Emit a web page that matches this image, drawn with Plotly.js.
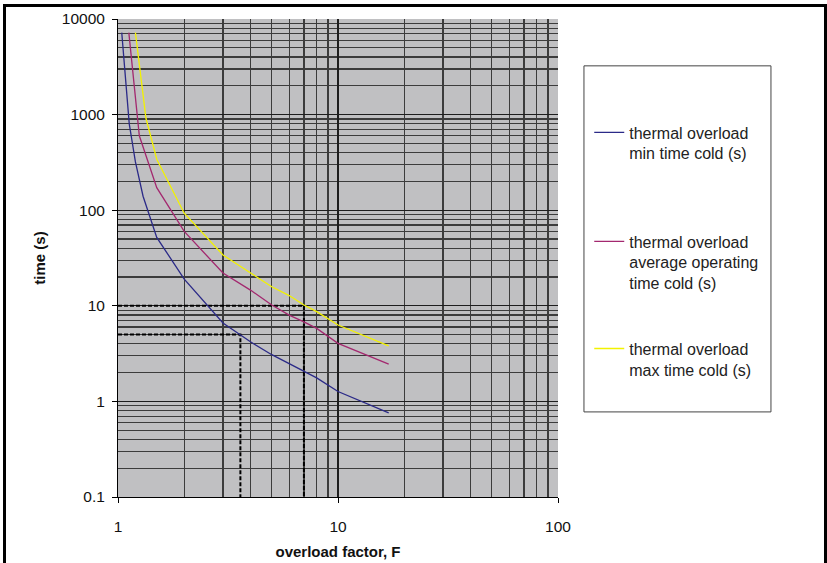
<!DOCTYPE html>
<html>
<head>
<meta charset="utf-8">
<script src="https://cdn.plot.ly/plotly-3.0.1.min.js"></script>
<style>
html,body{margin:0;padding:0;background:#fff;}
#wrap{position:relative;width:827px;height:563px;overflow:hidden;}
#chart{position:absolute;left:0;top:0;width:827px;height:563px;}
#frame{position:absolute;left:3px;top:4px;width:818px;height:580px;border:3px solid #000;pointer-events:none;}
</style>
</head>
<body>
<div id="wrap">
<div id="chart"></div>
<div id="frame"></div>
</div>
<script>
// series: thermal overload min time cold (s)
var minF = [1.04, 1.125, 1.2, 1.3, 1.5, 2, 3, 4, 5, 6, 7, 8, 10, 17];
var minT = [7200, 800, 320, 140, 52, 19, 6.6, 4.2, 3.08, 2.46, 2.05, 1.76, 1.27, 0.76];
// series: thermal overload average operating time cold (s)
var avgF = [1.12, 1.25, 1.5, 2, 3, 4, 5, 6, 7, 8, 10, 17];
var avgT = [7200, 600, 172, 60, 22, 14.6, 10.2, 8.0, 6.8, 5.8, 4.05, 2.46];
// series: thermal overload max time cold (s)
var maxF = [1.2, 1.34, 1.5, 2, 3, 4, 5, 6, 7, 8, 10, 17];
var maxT = [7200, 915, 341, 93, 34, 22.3, 15.8, 12.8, 10.2, 8.7, 6.3, 3.8];
// dashed reading guides
var guide10F = [1, 7, 7];
var guide10T = [10, 10, 0.1];
var guide5F = [1, 3.6, 3.6];
var guide5T = [5, 5, 0.1];

var seriesNames = [
  "thermal overload<br>min time cold (s)",
  "thermal overload<br>average operating<br>time cold (s)",
  "thermal overload<br>max time cold (s)"
];
var yTickVals = [0.1, 1, 10, 100, 1000, 10000];
var yTickText = ["0.1", "1", "10", "100", "1000", "10000"];
var xTickVals = [1, 10, 100];
var xTickText = ["1", "10", "100"];

function minorVals(startExp, endExp) {
  var v = [];
  for (var e = startExp; e < endExp; e++) {
    for (var d = 2; d <= 9; d++) v.push(d * Math.pow(10, e));
  }
  return v;
}

var FONT = "Liberation Sans, Arial, sans-serif";
var GRID = "#1e1e1e";
var MINOR = "#3c3c3c";

var traces = [
  {x: guide10F, y: guide10T, mode: "lines", line: {color: "#000", width: 2, dash: "4px,2px"}, showlegend: false, hoverinfo: "skip"},
  {x: guide5F, y: guide5T, mode: "lines", line: {color: "#000", width: 2, dash: "4px,2px"}, showlegend: false, hoverinfo: "skip"},
  {x: minF, y: minT, mode: "lines", name: seriesNames[0], line: {color: "#2b2a88", width: 1.3}, legend: "legend"},
  {x: avgF, y: avgT, mode: "lines", name: seriesNames[1], line: {color: "#a3286f", width: 1.3}, legend: "legend2"},
  {x: maxF, y: maxT, mode: "lines", name: seriesNames[2], line: {color: "#f2f200", width: 1.3}, legend: "legend3"}
];

function leg(y) {
  return {x: 1.071, xanchor: "left", y: y, yanchor: "top", valign: "top",
    bgcolor: "rgba(0,0,0,0)", borderwidth: 0,
    font: {family: FONT, size: 16, color: "#222"}};
}

var layout = {
  width: 827, height: 563,
  margin: {l: 118, r: 269, t: 19, b: 66, pad: 0},
  paper_bgcolor: "#fff",
  plot_bgcolor: "#c0c0c2",
  font: {family: FONT, color: "#000"},
  showlegend: true,
  legend: leg(0.798),
  legend2: leg(0.57),
  legend3: leg(0.346),
  xaxis: {
    type: "log", range: [0, 2],
    tickmode: "array", tickvals: xTickVals, ticktext: xTickText,
    ticks: "outside", ticklen: 5, tickcolor: "#000", tickwidth: 1,
    ticklabelstandoff: 10,
    tickfont: {family: FONT, size: 15.5, color: "#111"},
    showgrid: true, gridcolor: GRID, gridwidth: 1.2,
    minor: {tickmode: "array", tickvals: minorVals(0, 2), showgrid: true, gridcolor: MINOR, gridwidth: 1.2, ticks: ""},
    showline: true, linecolor: "#000", linewidth: 1, zeroline: false,
    title: {text: "<b>overload factor, F</b>", font: {family: FONT, size: 15, color: "#111"}, standoff: 12}
  },
  yaxis: {
    type: "log", range: [-1, 4],
    tickmode: "array", tickvals: yTickVals, ticktext: yTickText,
    ticks: "outside", ticklen: 5, tickcolor: "#000", tickwidth: 1,
    ticklabelstandoff: 4,
    tickfont: {family: FONT, size: 15.5, color: "#111"},
    showgrid: true, gridcolor: GRID, gridwidth: 1.2,
    minor: {tickmode: "array", tickvals: minorVals(-1, 4), showgrid: true, gridcolor: MINOR, gridwidth: 1.2, ticks: ""},
    showline: true, linecolor: "#000", linewidth: 1, zeroline: false,
    title: {text: "<b>time (s)</b>", font: {family: FONT, size: 15, color: "#111"}, standoff: 12}
  },
  shapes: [
    {type: "rect", xref: "paper", yref: "paper", x0: 1.059, x1: 1.484, y0: 0.178, y1: 0.902,
     line: {color: "#444", width: 1}, fillcolor: "rgba(0,0,0,0)", layer: "below"}
  ]
};

Plotly.newPlot("chart", traces, layout, {staticPlot: true, displayModeBar: false});
</script>
</body>
</html>
